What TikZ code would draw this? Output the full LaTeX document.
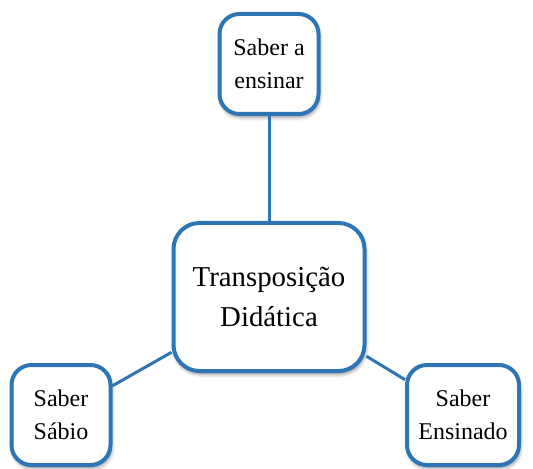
\documentclass[tikz,border=0pt]{standalone}
\usepackage{fontspec}
\setmainfont{Liberation Serif}
\usetikzlibrary{shadows.blur}
\definecolor{boxBlue}{RGB}{46,117,182}

\begin{document}
\begin{tikzpicture}
[x=0.5pt,y=-0.5pt,%
  lineDecorate/.style={-,line width=1.5pt,boxBlue},%
  nodeDecorate/.style={shape=rectangle,rounded corners=10pt,draw=boxBlue,
    line width=2pt,fill=white,align=center,inner sep=1pt,
    blur shadow={shadow xshift=0.6pt,shadow yshift=-1.6pt,
      shadow blur radius=1.8pt,shadow opacity=45}},
  smallDecorate/.style={nodeDecorate,minimum width=49.5pt,minimum height=50pt,
    font=\fontsize{12}{16.5}\selectfont}]
\useasboundingbox (0,0) rectangle (533,469);
%% nodes or vertices
\node (centre) at (269,297) [nodeDecorate,rounded corners=13pt,
  minimum width=95.5pt,minimum height=74pt,
  font=\fontsize{14.4}{20}\selectfont] {Transposição\\Didática};
\foreach \nodename/\x/\y/\boxwidth/\text in {
  ensinar/269/64/49.5/Saber a\\ensinar, sabio/61/415/49.5/Saber\\Sábio,
  ensinado/463/415/56/Saber\\Ensinado}
{
  \node (\nodename) at (\x,\y) [smallDecorate,minimum width=\boxwidth pt] {\text};
}
%% edges or lines
\path
\foreach \startnode/\endnode in {ensinar/centre, sabio/centre, ensinado/centre}
{
  (\startnode) edge[lineDecorate] node {} (\endnode)
};
\end{tikzpicture}
\end{document}
